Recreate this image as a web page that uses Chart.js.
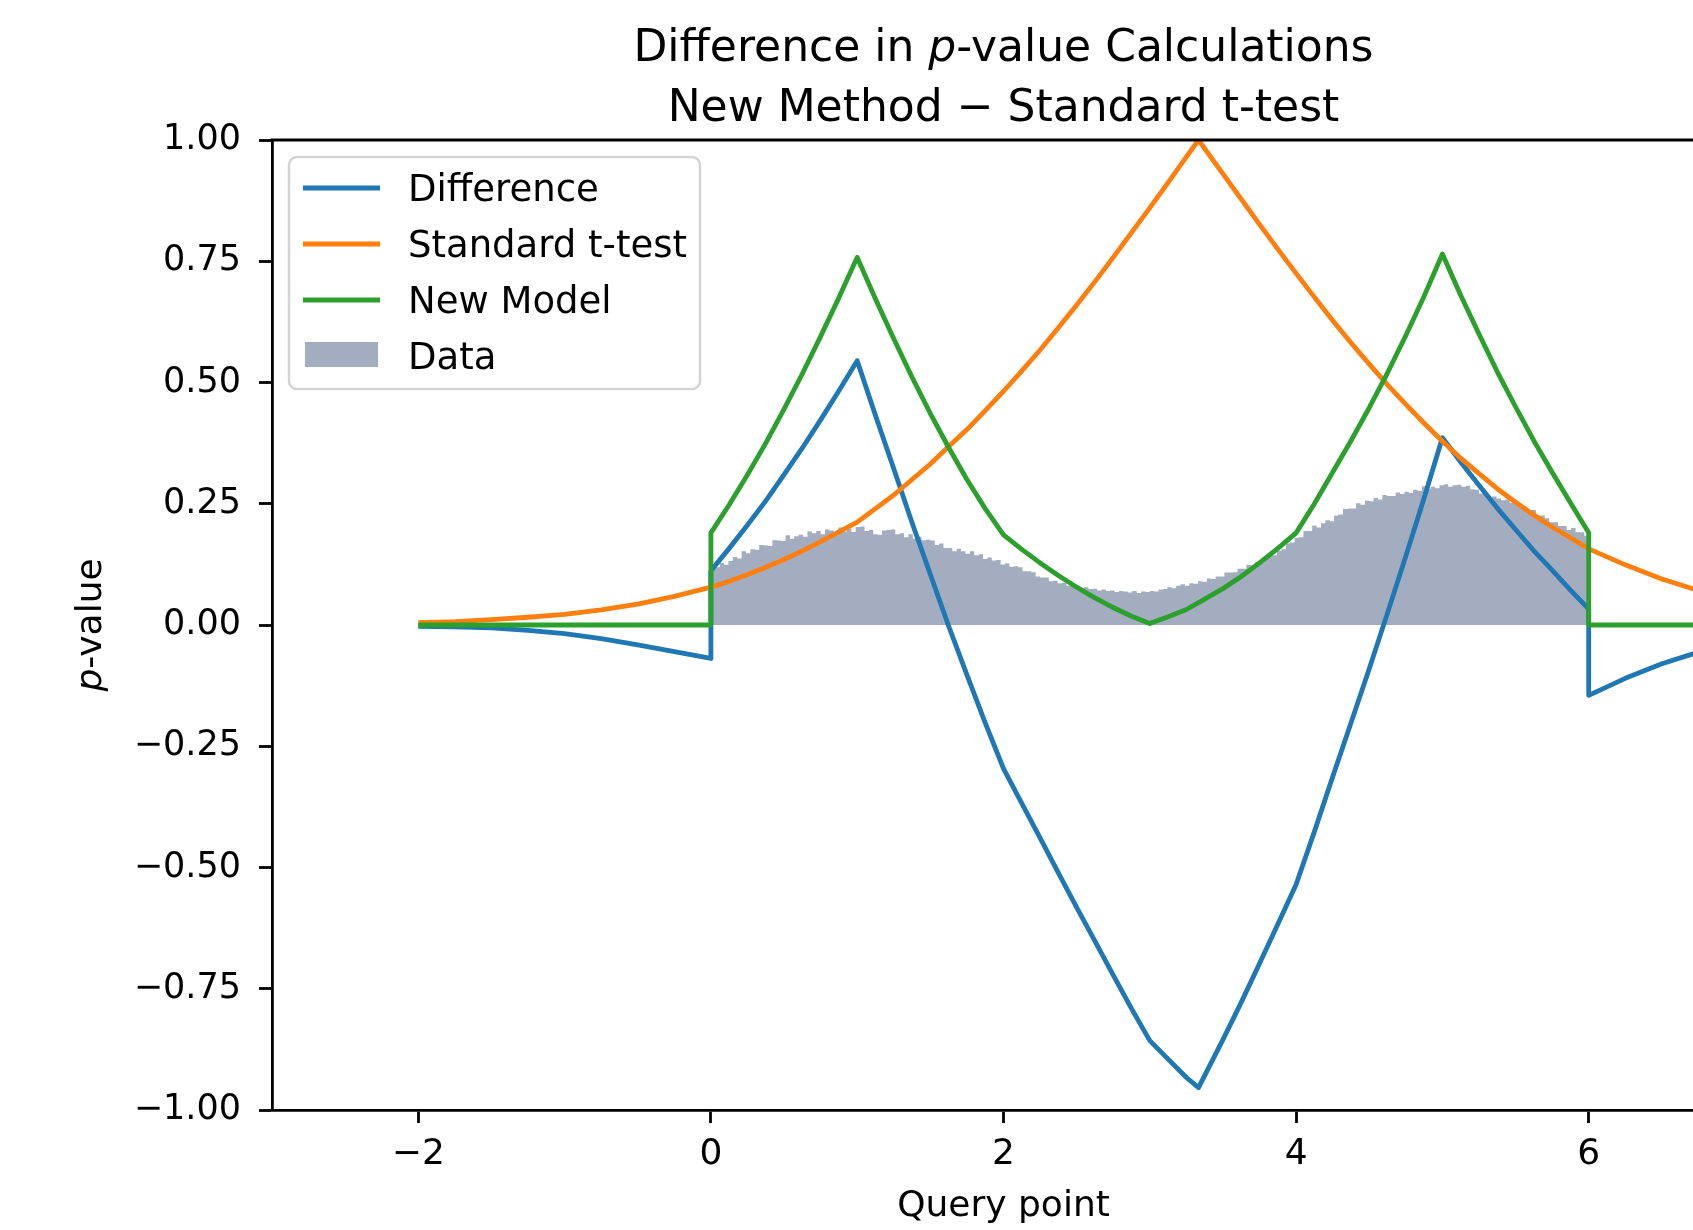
<!DOCTYPE html>
<html>
<head>
<meta charset="utf-8">
<script src="https://cdn.jsdelivr.net/npm/chart.js@4.4.1/dist/chart.umd.min.js"></script>
<style>
  html, body { margin: 0; padding: 0; background: #fff; overflow: hidden; }
  #wrap { position: absolute; left: 0; top: 0; width: 1800px; height: 1230px; }
</style>
</head>
<body>
<div id="wrap"><canvas id="pvalChart"></canvas></div>
<script>
// query points (0 and 6 appear twice: the curves jump there)
const queryPoints = [-2, -1.75, -1.5, -1.25, -1, -0.75, -0.5, -0.25, 0, 0,
  0.125, 0.25, 0.375, 0.5, 0.625, 0.75, 0.875, 1,
  1.125, 1.25, 1.375, 1.5, 1.625, 1.75, 1.875, 2,
  2.125, 2.25, 2.375, 2.5, 2.625, 2.75, 2.875, 3,
  3.125, 3.25, 3.333, 3.5, 3.625, 3.75, 3.875, 4,
  4.125, 4.25, 4.375, 4.5, 4.625, 4.75, 4.875, 5,
  5.125, 5.25, 5.375, 5.5, 5.625, 5.75, 5.875, 6, 6,
  6.25, 6.5, 6.75, 7];

const differenceVals = [-0.003, -0.004, -0.006, -0.011, -0.018, -0.028, -0.041, -0.055, -0.069, 0.112,
  0.158, 0.206, 0.256, 0.310, 0.365, 0.423, 0.483, 0.545,
  0.432, 0.322, 0.211, 0.104, -0.002, -0.103, -0.202, -0.296,
  -0.368, -0.439, -0.511, -0.582, -0.652, -0.722, -0.791, -0.857,
  -0.895, -0.933, -0.954, -0.855, -0.778, -0.698, -0.617, -0.535,
  -0.426, -0.313, -0.202, -0.090, 0.025, 0.142, 0.262, 0.386,
  0.336, 0.288, 0.241, 0.197, 0.153, 0.113, 0.072, 0.033, -0.145,
  -0.11, -0.08, -0.056, -0.042];

const standardVals = [0.005, 0.007, 0.011, 0.016, 0.022, 0.031, 0.043, 0.059, 0.078, 0.078,
  0.090, 0.104, 0.119, 0.135, 0.153, 0.172, 0.192, 0.212,
  0.240, 0.268, 0.300, 0.332, 0.368, 0.403, 0.442, 0.482,
  0.524, 0.567, 0.613, 0.660, 0.708, 0.758, 0.809, 0.860,
  0.912, 0.965, 1.0, 0.930, 0.878, 0.826, 0.775, 0.725,
  0.676, 0.628, 0.582, 0.538, 0.495, 0.455, 0.416, 0.379,
  0.344, 0.312, 0.281, 0.253, 0.227, 0.202, 0.180, 0.157, 0.157,
  0.124, 0.095, 0.071, 0.053];

const newModelVals = [0, 0, 0, 0, 0, 0, 0, 0, 0, 0.19,
  0.248, 0.31, 0.375, 0.445, 0.518, 0.595, 0.675, 0.758,
  0.672, 0.59, 0.511, 0.436, 0.366, 0.30, 0.24, 0.186,
  0.156, 0.128, 0.102, 0.078, 0.056, 0.036, 0.018, 0.003,
  0.017, 0.032, 0.046, 0.075, 0.100, 0.128, 0.158, 0.19,
  0.25, 0.315, 0.38, 0.448, 0.52, 0.597, 0.678, 0.765,
  0.68, 0.60, 0.522, 0.45, 0.38, 0.315, 0.252, 0.19, 0,
  0, 0, 0, 0];

// histogram of the data, bins of width 0.03 starting at 0
const histStart = 0;
const histBinWidth = 0.03;
const histHeights = [
  0.122, 0.119, 0.128, 0.124, 0.132, 0.140, 0.137, 0.152, 0.148, 0.156,
  0.155, 0.165, 0.164, 0.163, 0.175, 0.174, 0.173, 0.185, 0.178, 0.183,
  0.186, 0.182, 0.193, 0.189, 0.194, 0.187, 0.197, 0.195, 0.191, 0.201,
  0.193, 0.199, 0.192, 0.202, 0.203, 0.194, 0.196, 0.187, 0.186, 0.195,
  0.196, 0.197, 0.187, 0.189, 0.181, 0.187, 0.178, 0.182, 0.175, 0.176,
  0.174, 0.165, 0.168, 0.159, 0.159, 0.152, 0.157, 0.152, 0.147, 0.152,
  0.144, 0.146, 0.136, 0.139, 0.133, 0.134, 0.125, 0.127, 0.120, 0.121,
  0.119, 0.111, 0.111, 0.109, 0.100, 0.098, 0.098, 0.090, 0.091, 0.086,
  0.087, 0.081, 0.081, 0.078, 0.075, 0.078, 0.074, 0.075, 0.071, 0.073,
  0.070, 0.071, 0.068, 0.070, 0.069, 0.067, 0.070, 0.066, 0.069, 0.068,
  0.070, 0.069, 0.073, 0.074, 0.078, 0.076, 0.081, 0.084, 0.081, 0.086,
  0.085, 0.090, 0.089, 0.096, 0.095, 0.100, 0.100, 0.108, 0.108, 0.109,
  0.116, 0.116, 0.124, 0.123, 0.130, 0.129, 0.138, 0.144, 0.144, 0.153,
  0.156, 0.168, 0.170, 0.180, 0.181, 0.194, 0.194, 0.205, 0.201, 0.210,
  0.216, 0.214, 0.226, 0.228, 0.239, 0.240, 0.240, 0.251, 0.248, 0.256,
  0.255, 0.262, 0.259, 0.268, 0.266, 0.266, 0.273, 0.270, 0.275, 0.272,
  0.279, 0.277, 0.286, 0.281, 0.285, 0.282, 0.288, 0.290, 0.285, 0.288,
  0.289, 0.285, 0.287, 0.280, 0.279, 0.271, 0.272, 0.263, 0.265, 0.261,
  0.257, 0.259, 0.252, 0.252, 0.243, 0.244, 0.236, 0.237, 0.226, 0.226,
  0.220, 0.212, 0.212, 0.204, 0.204, 0.196, 0.200, 0.191, 0.191, 0.184
];

const xTickVals = [-2, 0, 2, 4, 6];
const yTickVals = [-1, -0.75, -0.5, -0.25, 0, 0.25, 0.5, 0.75, 1];

const FONT = "'DejaVu Sans', sans-serif";
const C_DIFF = '#1f77b4', C_STD = '#ff7f0e', C_NEW = '#2ca02c', C_HIST = 'rgb(164,173,192)';

const toPoints = ys => ys.map((y, i) => ({ x: queryPoints[i], y }));
const histPoints = histHeights.map((h, i) => ({ x: histStart + i * histBinWidth, y: h }));
histPoints.push({ x: histStart + histHeights.length * histBinWidth, y: histHeights[histHeights.length - 1] });

const minus = s => s.replace('-', '\u2212');

// text made of plain and italic pieces, centred on cx
function drawMixed(ctx, parts, cx, y, size) {
  let total = 0;
  const widths = parts.map(([t, it]) => {
    ctx.font = (it ? 'italic ' : '') + size + 'px ' + FONT;
    const w = ctx.measureText(t).width;
    total += w;
    return w;
  });
  let x = cx - total / 2;
  ctx.textAlign = 'left';
  parts.forEach(([t, it], i) => {
    ctx.font = (it ? 'italic ' : '') + size + 'px ' + FONT;
    ctx.fillText(t, x, y);
    x += widths[i];
  });
}

const decorations = {
  id: 'decorations',
  afterDraw(chart) {
    const { ctx, chartArea: a } = chart;
    ctx.save();
    // top and right spines
    ctx.strokeStyle = '#000';
    ctx.lineWidth = 2.8;
    ctx.beginPath();
    ctx.moveTo(a.left - 1.4, a.top);
    ctx.lineTo(a.right, a.top);
    ctx.lineTo(a.right, a.bottom);
    ctx.stroke();

    const cx = (a.left + a.right) / 2;
    ctx.fillStyle = '#000';
    ctx.textBaseline = 'alphabetic';
    drawMixed(ctx, [['Difference in ', false], ['p', true], ['-value Calculations', false]], cx, 61, 44);
    drawMixed(ctx, [['New Method \u2212 Standard t-test', false]], cx, 121, 44);
    drawMixed(ctx, [['Query point', false]], cx, 1216, 36);

    ctx.save();
    ctx.translate(101, (a.top + a.bottom) / 2);
    ctx.rotate(-Math.PI / 2);
    drawMixed(ctx, [['p', true], ['-value', false]], 0, 0, 36);
    ctx.restore();

    // legend
    ctx.beginPath();
    ctx.roundRect(289, 157, 411, 232, 8);
    ctx.fillStyle = 'rgba(255,255,255,0.8)';
    ctx.fill();
    ctx.strokeStyle = '#d4d4d4';
    ctx.lineWidth = 2.5;
    ctx.stroke();

    const rows = [['Difference', C_DIFF, 188], ['Standard t-test', C_STD, 244], ['New Model', C_NEW, 300]];
    ctx.lineWidth = 4.8;
    rows.forEach(([label, color, y]) => {
      ctx.strokeStyle = color;
      ctx.beginPath();
      ctx.moveTo(303, y);
      ctx.lineTo(380, y);
      ctx.stroke();
    });
    ctx.fillStyle = C_HIST;
    ctx.fillRect(305, 342, 73, 25);

    ctx.fillStyle = '#000';
    ctx.font = '37px ' + FONT;
    ctx.textAlign = 'left';
    ['Difference', 'Standard t-test', 'New Model', 'Data'].forEach((t, i) => {
      ctx.fillText(t, 408, 201 + i * 56);
    });
    ctx.restore();
  }
};

const axisCommon = {
  type: 'linear',
  grid: { display: true, drawOnChartArea: false, drawTicks: true, tickLength: 13, tickWidth: 2.8, tickColor: '#000' },
  border: { display: true, color: '#000', width: 2.8 },
};

new Chart(document.getElementById('pvalChart'), {
  type: 'line',
  data: {
    datasets: [
      { label: 'New Model', data: toPoints(newModelVals), borderColor: C_NEW, order: 1 },
      { label: 'Standard t-test', data: toPoints(standardVals), borderColor: C_STD, order: 2 },
      { label: 'Difference', data: toPoints(differenceVals), borderColor: C_DIFF, order: 3 },
      { label: 'Data', data: histPoints, stepped: 'before', fill: 'origin', backgroundColor: C_HIST,
        borderColor: 'rgba(0,0,0,0)', borderWidth: 1, order: 4 }
    ]
  },
  options: {
    responsive: true,
    maintainAspectRatio: false,
    animation: false,
    events: [],
    layout: { padding: { left: 0, right: 65, top: 140, bottom: 0 } },
    elements: {
      point: { radius: 0 },
      line: { borderWidth: 4.8, tension: 0, borderJoinStyle: 'round', fill: false }
    },
    plugins: { legend: { display: false }, title: { display: false }, tooltip: { enabled: false } },
    scales: {
      x: {
        ...axisCommon,
        min: -3, max: 7,
        afterBuildTicks: s => { s.ticks = xTickVals.map(v => ({ value: v })); },
        afterFit: s => { s.height = 120; },
        ticks: { font: { family: FONT, size: 36 }, color: '#000', padding: 10, maxRotation: 0, autoSkip: false,
          callback: v => minus(String(v)) }
      },
      y: {
        ...axisCommon,
        min: -1, max: 1,
        afterBuildTicks: s => { s.ticks = yTickVals.map(v => ({ value: v })); },
        afterFit: s => { s.width = 272; },
        ticks: { font: { family: FONT, size: 35 }, color: '#000', padding: 18, autoSkip: false,
          callback: v => minus(v.toFixed(2)) }
      }
    }
  },
  plugins: [decorations]
});
</script>
</body>
</html>
